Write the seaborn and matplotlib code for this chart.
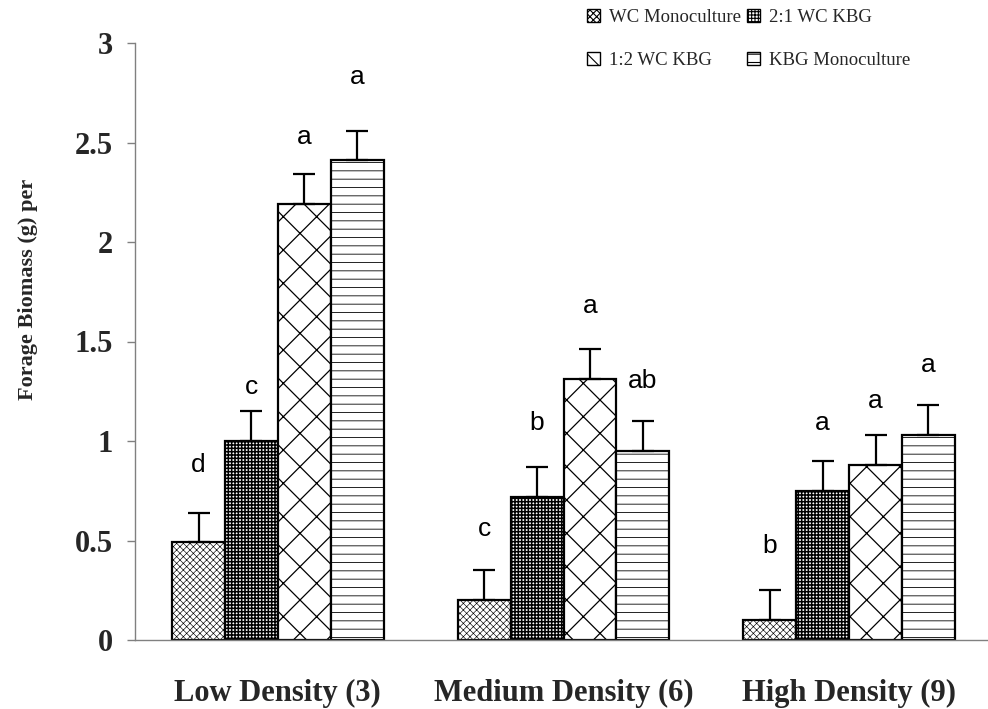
import numpy as np
import pandas as pd
import seaborn as sns
import matplotlib
matplotlib.use("Agg")
import matplotlib.pyplot as plt
from matplotlib.patches import Patch

# ---------------- data ----------------
densities = ["Low Density (3)", "Medium Density (6)", "High Density (9)"]
treatments = ["WC Monoculture", "2:1 WC KBG", "1:2 WC KBG", "KBG Monoculture"]

wc_mono = [0.49, 0.20, 0.10]
wc2_kbg1 = [1.00, 0.72, 0.75]
wc1_kbg2 = [2.19, 1.31, 0.88]
kbg_mono = [2.41, 0.95, 1.03]

err_wc_mono = [0.15, 0.15, 0.15]
err_wc2_kbg1 = [0.15, 0.15, 0.15]
err_wc1_kbg2 = [0.15, 0.15, 0.15]
err_kbg_mono = [0.15, 0.15, 0.15]

letters_wc_mono = ["d", "c", "b"]
letters_wc2_kbg1 = ["c", "b", "a"]
letters_wc1_kbg2 = ["a", "a", "a"]
letters_kbg_mono = ["a", "ab", "a"]

# heights at which the significance letters sit
letter_y_wc_mono = [0.88, 0.56, 0.47]
letter_y_wc2_kbg1 = [1.27, 1.09, 1.09]
letter_y_wc1_kbg2 = [2.53, 1.68, 1.20]
letter_y_kbg_mono = [2.83, 1.30, 1.38]

yticks = [0, 0.5, 1, 1.5, 2, 2.5, 3]
ytick_labels = ["0", "0.5", "1", "1.5", "2", "2.5", "3"]

# ---------------- build table ----------------
values = [wc_mono, wc2_kbg1, wc1_kbg2, kbg_mono]
errors = [err_wc_mono, err_wc2_kbg1, err_wc1_kbg2, err_kbg_mono]
letters = [letters_wc_mono, letters_wc2_kbg1, letters_wc1_kbg2, letters_kbg_mono]
letter_y = [letter_y_wc_mono, letter_y_wc2_kbg1, letter_y_wc1_kbg2, letter_y_kbg_mono]

rows = []
for t, vals in zip(treatments, values):
    for d, v in zip(densities, vals):
        rows.append({"density": d, "treatment": t, "biomass": v})
df = pd.DataFrame(rows)

# ---------------- style ----------------
sns.set_theme(style="white")
plt.rcParams["font.family"] = ["Liberation Serif", "DejaVu Serif"]
plt.rcParams["hatch.linewidth"] = 0.8
plt.rcParams["hatch.color"] = "black"

hatches = ["xxxxx", "+++++", "x", "--"]
hatch_lw = [0.45, 1.1, 0.9, 0.6]
axis_gray = "#808080"


def set_hlw(p, lw):
    if hasattr(p, "set_hatch_linewidth"):
        p.set_hatch_linewidth(lw)
    else:
        p._hatch_linewidth = lw


fig = plt.figure(figsize=(9.88, 7.09), dpi=100)
ax = fig.add_axes([135 / 988, 69 / 709, (992 - 135) / 988, (666 - 69) / 709])

sns.barplot(data=df, x="density", y="biomass", hue="treatment",
            order=densities, hue_order=treatments, width=0.74,
            errorbar=None, legend=False, ax=ax, saturation=1,
            palette=["white"] * 4, edgecolor="black", linewidth=1.6)

bar_containers = list(ax.containers)
for ci, cont in enumerate(bar_containers):
    for j, bar in enumerate(cont.patches):
        bar.set_hatch(hatches[ci])
        set_hlw(bar, hatch_lw[ci])
        x = bar.get_x() + bar.get_width() / 2
        ax.errorbar(x, bar.get_height(), yerr=[[0], [errors[ci][j]]],
                    fmt="none", ecolor="black", elinewidth=1.6,
                    capsize=8, capthick=1.6, zorder=5)
        ax.text(x, letter_y[ci][j], letters[ci][j], ha="center", va="center",
                fontsize=19, family=["Liberation Sans", "DejaVu Sans"],
                color="black")

ax.set_xlim(-0.5, 2.5)
ax.set_ylim(0, 3)
ax.set_yticks(yticks)
ax.set_yticklabels(ytick_labels, fontsize=22, fontweight="bold")
ax.set_xticks(range(len(densities)))
ax.set_xticklabels(densities, fontsize=22, fontweight="bold")
ax.set_xticks([-0.5, 0.5, 1.5, 2.5], minor=True)
ax.tick_params(axis="x", which="major", length=0, pad=28)
ax.tick_params(axis="x", which="minor", length=8, width=1,
               color=axis_gray, direction="out")
ax.tick_params(axis="y", which="major", length=6, width=1,
               color=axis_gray, direction="out", pad=10, left=True)
ax.set_xlabel("")
ax.set_ylabel("Forage Biomass (g) per", fontsize=16, fontweight="bold")
ax.yaxis.set_label_coords(-0.113, 0.588)

for s in ["top", "right"]:
    ax.spines[s].set_visible(False)
for s in ["left", "bottom"]:
    ax.spines[s].set_color(axis_gray)
    ax.spines[s].set_linewidth(1)

# legend (column-major order to match reference)
order = [0, 2, 1, 3]
handles = []
for i in order:
    h = Patch(facecolor="white", edgecolor="black", hatch=hatches[i], linewidth=1)
    set_hlw(h, hatch_lw[i])
    handles.append(h)
labels = [treatments[i] for i in order]
fig.legend(handles, labels, ncol=2, loc="upper left",
           bbox_to_anchor=(587 / 988, 0.988), frameon=False,
           fontsize=13.5, borderaxespad=0, borderpad=0,
           handlelength=0.7, handleheight=0.7, handletextpad=0.45,
           columnspacing=0.35, labelspacing=1.38)

fig.savefig("out.png", dpi=100)
